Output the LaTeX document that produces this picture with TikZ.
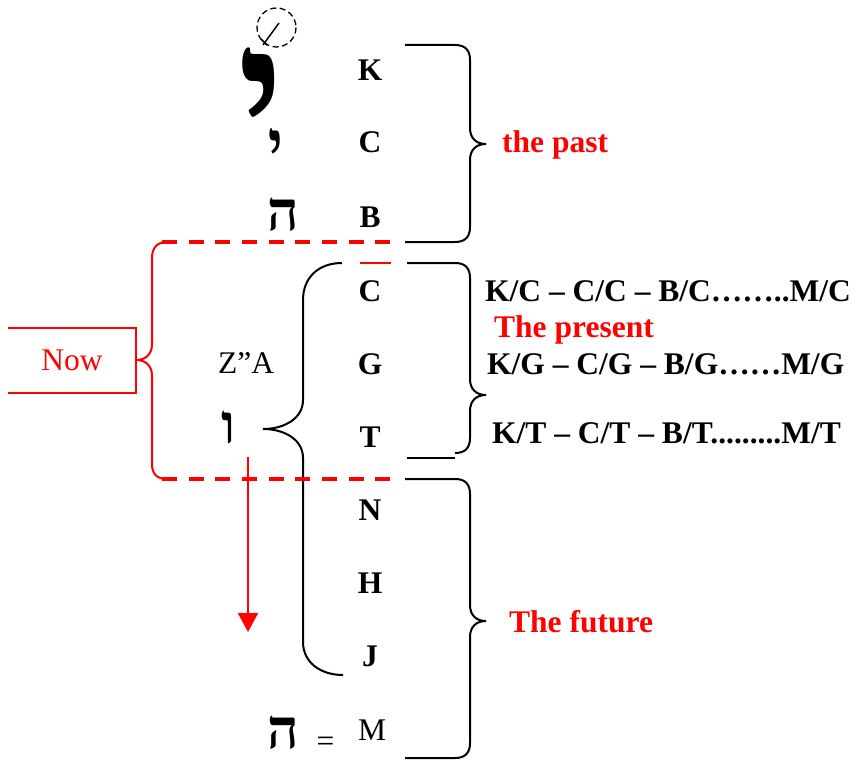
\documentclass[tikz,border=0pt]{standalone}
\usepackage{fontspec}
\setmainfont{Liberation Serif}
\newfontfamily\hebfont[Script=Hebrew]{Liberation Serif}
\TeXXeTstate=1
\usetikzlibrary{arrows.meta}
\definecolor{hot}{RGB}{255,0,0}
\tikzset{
  sefira/.style={font=\fontsize{31.5}{36}\selectfont\bfseries, inner sep=0pt, anchor=base},
  plain/.style={font=\fontsize{31.5}{36}\selectfont, inner sep=0pt, anchor=base},
  rowtext/.style={font=\fontsize{31.5}{36}\selectfont\bfseries, inner sep=0pt, anchor=base west},
  timetag/.style={font=\fontsize{31.5}{36}\selectfont\bfseries, text=hot, inner sep=0pt, anchor=base west},
  letter/.style={font=\hebfont\fontsize{55}{60}\selectfont\bfseries, inner sep=0pt},
  brace/.style={draw=black, line width=2pt},
  redbrace/.style={draw=hot, line width=2pt},
  bound/.style={draw=hot, line width=4pt, dash pattern=on 15pt off 11.67pt},
}
\begin{document}
\begin{tikzpicture}[x=1pt,y=-1pt]
\useasboundingbox (0,0) rectangle (858,762);

% sefirot column
\node[sefira] (k)  at (370,81)  {K};
\node[sefira] (c1) at (370,153) {C};
\node[sefira] (b)  at (370,227) {B};
\node[sefira] (c2) at (370,301) {C};
\node[sefira] (g)  at (370,374) {G};
\node[sefira] (t)  at (370,447) {T};
\node[sefira] (n)  at (370,520) {N};
\node[sefira] (h)  at (370,593) {H};
\node[sefira] (j)  at (370,666) {J};
\node[plain]  (m)  at (372,740) {M};

% letters of the Name
\node[letter, font=\hebfont\fontsize{155}{160}\selectfont\bfseries] (yudbig) at (261,105) {\scalebox{1.1}[1.26]{\beginR י\endR}};
\node[letter] (yud) at (276,150) {\scalebox{1}[1.3]{\beginR י\endR}};
\node[letter] (he1) at (283.5,214.5) {\beginR ה\endR};
\node[letter] (vav) at (228.5,427.5) {\beginR ו\endR};
\node[letter] (he2) at (283.5,733) {\beginR ה\endR};
\node[plain] (eq) at (325.5,751) {=};
\node[plain] (za) at (246,373) {Z”A};

% the thorn of the yud
\draw[line width=1.3pt, dash pattern=on 6pt off 3.5pt] (276.5,27.5) circle (19.5);
\draw[line width=1.5pt] (263,45) -- (279,23);
\draw[line width=1.5pt] (261,39) -- (267,45);

% right-hand combinations
\node[rowtext] (rowC) at (485,301) {K/C – C/C – B/C……..M/C};
\node[timetag] (present) at (494,337) {The present};
\node[rowtext] (rowG) at (487,374) {K/G – C/G – B/G……M/G};
\node[rowtext] (rowT) at (492,443) {K/T – C/T – B/T.........M/T};
\node[timetag] (past) at (502,153) {the past};
\node[timetag] (future) at (509,632) {The future};

% past brace
\draw[brace] (405,45) -- (455,45) .. controls (465,45) and (470,50) .. (470,60)
  -- (470,128) .. controls (470,138) and (476,144) .. (486,144)
  .. controls (476,144) and (470,150) .. (470,160)
  -- (470,227) .. controls (470,237) and (465,242) .. (455,242) -- (405,242);

% present brace
\draw[brace] (407,263) -- (455,263) .. controls (465,263) and (470,268) .. (470,278)
  -- (470,379) .. controls (470,389) and (476,395) .. (486,395)
  .. controls (476,395) and (470,401) .. (470,411)
  -- (470,438) .. controls (470,448) and (465,453) .. (455,453);
\draw[brace] (407,458) -- (455,458);
\draw[hot, line width=1.5pt] (360,263) -- (391,263);

% future brace
\draw[brace] (405,479) -- (455,479) .. controls (465,479) and (470,484) .. (470,494)
  -- (470,605) .. controls (470,615) and (476,621) .. (486,621)
  .. controls (476,621) and (470,627) .. (470,637)
  -- (470,743) .. controls (470,753) and (465,758) .. (455,758) -- (405,758);

% brace of Z"A, from the vav
\draw[brace] (342,263) .. controls (318,263) and (303,278) .. (303,300)
  -- (303,400) .. controls (303,418) and (285,429) .. (263,429)
  .. controls (285,429) and (303,440) .. (303,458)
  -- (303,642) .. controls (303,662) and (320,675) .. (343,675);

% the "now" band
\draw[bound] (162,242) -- (392,242);
\draw[bound] (162,479) -- (392,479);
\draw[redbrace] (167,242) .. controls (157,242) and (152,248) .. (152,258)
  -- (152,344) .. controls (152,354) and (146,360) .. (136,360)
  .. controls (146,360) and (152,366) .. (152,376)
  -- (152,464) .. controls (152,474) and (157,479) .. (167,479);
\draw[hot, line width=2pt] (8,328) -- (136,328) -- (136,393) -- (8,393);
\node[plain, text=hot] (now) at (72,370) {Now};

% downward flow
\coordinate (flowS) at (248,457);
\coordinate (flowE) at (248,632);
\draw[hot, line width=2pt, -{Triangle[width=20pt,length=19pt]}] (flowS) -- (flowE);
\end{tikzpicture}
\end{document}
